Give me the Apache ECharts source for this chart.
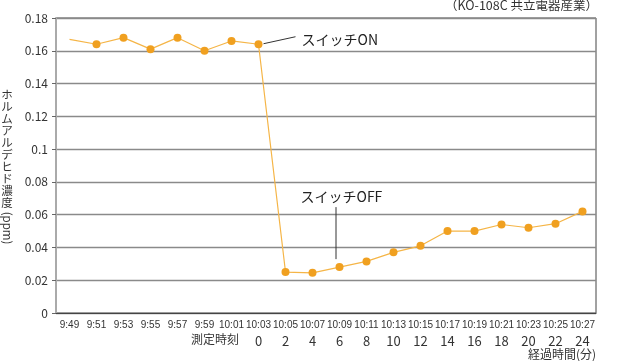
<!DOCTYPE html>
<html><head><meta charset="utf-8">
<script src="https://cdn.jsdelivr.net/npm/echarts@6/dist/echarts.min.js"></script>
<style>html,body{margin:0;padding:0;background:#fff}#c{width:627px;height:361px}</style>
</head><body><div id="c"></div>
<script>
var times = ['9:49','9:51','9:53','9:55','9:57','9:59','10:01','10:03','10:05','10:07','10:09','10:11','10:13','10:15','10:17','10:19','10:21','10:23','10:25','10:27'];
var elapsed = ['','','','','','','','0','2','4','6','8','10','12','14','16','18','20','22','24'];
var values = [0.167,0.164,0.168,0.161,0.168,0.160,0.166,0.164,0.025,0.0245,0.028,0.0315,0.037,0.041,0.050,0.050,0.054,0.052,0.0545,0.062];
var yTicks = [0,0.02,0.04,0.06,0.08,0.1,0.12,0.14,0.16,0.18];
var FONT = '"Noto Sans CJK JP","Noto Sans",sans-serif';
var NARROW = '"Liberation Sans",Arial,sans-serif';
var chart = echarts.init(document.getElementById('c'), null, {renderer:'canvas'});
var seriesData = values.map(function(v,i){
  return i===0 ? {value:v, symbol:'none'} : v;
});
chart.setOption({
  animation:false,
  textStyle:{fontFamily:FONT},
  grid:{left:56,right:31,top:18,bottom:48,show:true,borderColor:'#444',borderWidth:1,backgroundColor:'transparent'},
  xAxis:{type:'category',data:times,boundaryGap:true,
    axisLine:{lineStyle:{color:'#444',width:1.2}},
    axisTick:{inside:true,length:6,lineStyle:{color:'#444'}},
    axisLabel:{interval:0,margin:5,color:'#333',
      formatter:function(v,i){return '{t|'+v+'}\n{n|'+elapsed[i]+'}';},
      rich:{t:{fontSize:10,lineHeight:14,color:'#333',fontFamily:NARROW},
            n:{fontSize:13,lineHeight:18,color:'#333',fontFamily:FONT}}}
  },
  yAxis:{type:'value',min:0,max:0.18,interval:0.02,
    axisLine:{show:true,lineStyle:{color:'#aaa',width:2}},
    axisTick:{show:true,length:4,lineStyle:{color:'#666'}},
    axisLabel:{color:'#333',fontSize:12,margin:8,fontFamily:FONT,
      formatter:function(v){var s=yTicks.filter(function(t){return Math.abs(t-v)<1e-9;});return s.length?String(+s[0].toFixed(2)):'';}},
    splitLine:{lineStyle:{color:'#8a8a8a',width:1.3}}
  },
  series:[{type:'line',data:seriesData,symbol:'circle',symbolSize:8,
    lineStyle:{color:'#F5B547',width:1.2},
    itemStyle:{color:'#F0A020'}}]
});
var pOn = chart.convertToPixel({seriesIndex:0},[7,values[7]]);
var pOff = chart.convertToPixel({seriesIndex:0},[10,values[10]]);
var tStyle = {fill:'#222',fontSize:14,fontFamily:FONT};
var yName = 'ホルムアルデヒド濃度'.split('').join('\n');
chart.setOption({graphic:[
  {type:'line',shape:{x1:pOn[0]+5,y1:pOn[1]-0.5,x2:pOn[0]+37,y2:pOn[1]-7.5},style:{stroke:'#333',lineWidth:1}},
  {type:'text',x:pOn[0]+43,y:pOn[1]-5,style:Object.assign({text:'スイッチON',verticalAlign:'middle'},tStyle)},
  {type:'line',shape:{x1:pOff[0]-3.5,y1:pOff[1]-60,x2:pOff[0]-3.5,y2:pOff[1]-8},style:{stroke:'#333',lineWidth:1}},
  {type:'text',x:pOff[0]-39,y:pOff[1]-70,style:Object.assign({text:'スイッチOFF',verticalAlign:'middle'},tStyle)},
  {type:'text',right:29,top:-1,style:{text:'（KO-108C 共立電器産業）',fill:'#333',fontSize:12.5,fontFamily:FONT}},
  {type:'text',x:7,y:89,style:{text:yName,fill:'#333',fontSize:11.5,lineHeight:12,align:'center',verticalAlign:'top',fontFamily:FONT}},
  {type:'text',x:7,y:228,rotation:-Math.PI/2,style:{text:'(ppm)',fill:'#333',fontSize:11.5,align:'center',verticalAlign:'middle',fontFamily:FONT}},
  {type:'text',x:239,y:339,style:{text:'測定時刻',fill:'#333',fontSize:12,align:'right',verticalAlign:'middle',fontFamily:FONT}},
  {type:'text',x:596,y:354,style:{text:'経過時間(分)',fill:'#333',fontSize:12,align:'right',verticalAlign:'middle',fontFamily:FONT}}
]});
</script></body></html>
